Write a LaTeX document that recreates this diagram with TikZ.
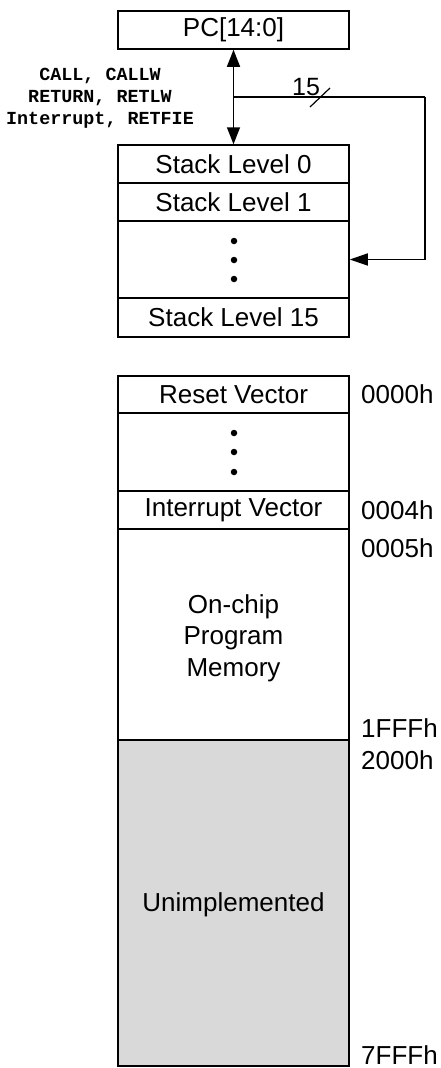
\documentclass[tikz,border=0pt]{standalone}
\usepackage{fontspec}
\setmainfont{Liberation Sans}
\newfontfamily\monofont{Liberation Mono}
\usetikzlibrary{arrows.meta}
\definecolor{unimp}{HTML}{D9D9D9}
\begin{document}
\begin{tikzpicture}[x=1pt,y=1pt,
  cell/.style={draw, line width=1.5pt, minimum width=231pt, inner sep=0pt, font=\fontsize{26}{30}\selectfont, align=center},
  addr/.style={anchor=west, inner sep=0pt, font=\fontsize{26}{30}\selectfont},
  wire/.style={line width=1.5pt},
  dot/.style={circle, fill=black, inner sep=0pt, minimum size=6.5pt}
]
\useasboundingbox (0,0) rectangle (441,-1068);
% PC
\node[cell, minimum height=38pt] (pc) at (233.5,-30) {PC[14:0]};
% stack
\node[cell, minimum height=38pt] (s0) at (233.5,-164) {Stack Level 0};
\node[cell, minimum height=38pt] (s1) at (233.5,-202) {Stack Level 1};
\node[cell, minimum height=77pt] (sd) at (233.5,-259.5) {};
\node[cell, minimum height=39pt] (s15) at (233.5,-317.5) {Stack Level 15};
\node[dot] (sd1) at (234,-241) {};
\node[dot] (sd2) at (234,-260) {};
\node[dot] (sd3) at (234,-279) {};
% arrows
\draw[wire, {Triangle[length=17pt,width=13pt]}-{Triangle[length=17pt,width=13pt]}] (pc.south) -- (s0.north);
\coordinate (br) at (234,-97);
\coordinate (rc) at (425,-97);
\draw[wire] (br) -- (rc);
\draw[wire, -{Triangle[length=18pt,width=12pt]}] (rc) |- (sd.east);
\coordinate (sl1) at (310,-107);
\coordinate (sl2) at (330,-88);
\draw[line width=1.2pt] (sl1) -- (sl2);
\node[inner sep=0pt, font=\fontsize{25}{28}\selectfont] (n15) at (306,-87) {15};
\node[align=center, inner sep=0pt, font=\monofont\bfseries\fontsize{18.4}{22}\selectfont] (lbl) at (100,-98)
  {CALL, CALLW\\RETURN, RETLW\\Interrupt, RETFIE};
% memory
\node[cell, minimum height=37pt] (rv) at (233.5,-394.5) {Reset Vector};
\node[cell, minimum height=78pt] (md) at (233.5,-452) {};
\node[dot] (md1) at (234,-433) {};
\node[dot] (md2) at (234,-452) {};
\node[dot] (md3) at (234,-472) {};
\node[cell, minimum height=38pt] (iv) at (233.5,-510) {Interrupt Vector};
\node[cell, minimum height=211pt, font=\fontsize{26}{31.5}\selectfont] (oc) at (233.5,-634.5) {};
\node[align=center, inner sep=0pt, font=\fontsize{26}{31.5}\selectfont] (octxt) at (233.5,-638) {On-chip\\Program\\Memory};
\node[cell, minimum height=326pt, fill=unimp] (un) at (233.5,-903) {};
\node[inner sep=0pt, font=\fontsize{26}{30}\selectfont] (untxt) at (233.5,-905) {Unimplemented};
% addresses
\node[addr] (a0) at (361,-394) {0000h};
\node[addr] (a4) at (361,-510) {0004h};
\node[addr] (a5) at (361,-548) {0005h};
\node[addr] (a1f) at (361,-728) {1FFFh};
\node[addr] (a2) at (361,-760) {2000h};
\node[addr] (a7) at (361,-1055) {7FFFh};
\end{tikzpicture}
\end{document}
